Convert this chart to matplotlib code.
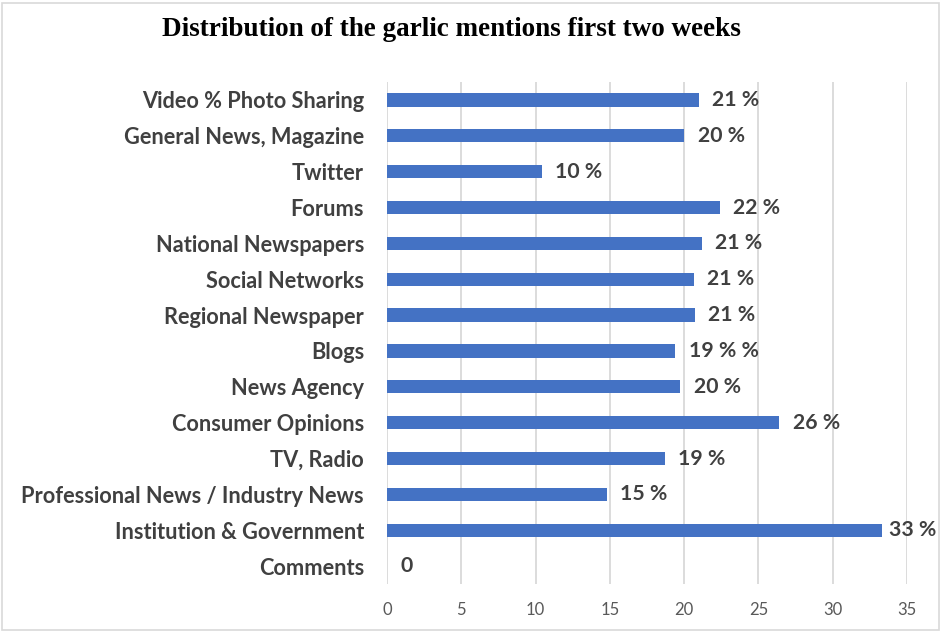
import matplotlib
matplotlib.use('Agg')
from matplotlib import pyplot as plt
from matplotlib.patches import Rectangle
import numpy as np

# Data (top to bottom)
categories = ['Video % Photo Sharing', 'General News, Magazine', 'Twitter',
              'Forums', 'National Newspapers', 'Social Networks',
              'Regional Newspaper', 'Blogs', 'News Agency', 'Consumer Opinions',
              'TV, Radio', 'Professional News / Industry News',
              'Institution & Government', 'Comments']
values = [21.0, 20.0, 10.4, 22.4, 21.2, 20.65, 20.7, 19.4, 19.75, 26.4,
          18.7, 14.8, 33.3, 0.0]
labels = ['21 %', '20 %', '10 %', '22 %', '21 %', '21 %', '21 %', '19 % %',
          '20 %', '26 %', '19 %', '15 %', '33 %', '0']
xticks = [0, 5, 10, 15, 20, 25, 30, 35]

bar_color = '#4472C4'
text_color = '#404040'
font = 'Lato'

fig = plt.figure(figsize=(9.42, 6.32), dpi=100)
ax = fig.add_axes([387/942, 1 - 584/632, (907-387)/942, (584-82)/632])

y = np.arange(len(categories))
ax.barh(y, values, height=0.37, color=bar_color, zorder=3)

# value labels; the long bar's label is pulled in so it stays on the figure
for yi, v, lab in zip(y, values, labels):
    pad = 0.5 if v > 30 else 0.9
    ax.text(v + pad, yi, lab, va='center', ha='left', fontsize=15.3,
            fontweight='bold', color=text_color, family=font)

ax.set_ylim(len(categories) - 0.5, -0.5)
ax.set_xlim(0, 35)
ax.set_yticks(y)
ax.set_yticklabels(categories, fontsize=15.7, fontweight='bold',
                   color=text_color, family=font)
ax.set_xticks(xticks)
ax.set_xticklabels([str(t) for t in xticks], fontsize=12, color='#595959',
                   family=font)
ax.tick_params(axis='both', length=0)
ax.tick_params(axis='y', pad=16.5)
ax.tick_params(axis='x', pad=13)

ax.grid(axis='x', color='#d9d9d9', linewidth=1.3, zorder=0)
for s in ax.spines.values():
    s.set_visible(False)

fig.text(451/942, 1 - 30/632, 'Distribution of the garlic mentions first two weeks',
         ha='center', va='center', fontsize=19.5, fontweight='bold',
         family='Liberation Serif', color='black')

# light border round the chart area
fig.patches.append(Rectangle((2/942, 2/632), 937/942, 627/632, fill=False,
                             edgecolor='#d9d9d9', linewidth=1.2,
                             transform=fig.transFigure))

plt.savefig('out.png', dpi=100)
